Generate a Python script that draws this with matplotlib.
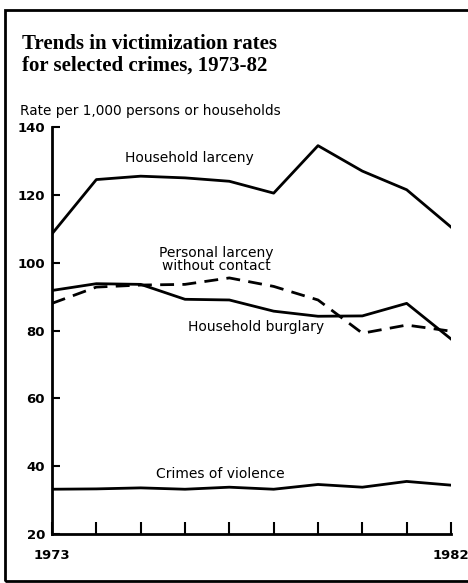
import matplotlib.pyplot as plt
from matplotlib.patches import Rectangle

years = [1973, 1974, 1975, 1976, 1977, 1978, 1979, 1980, 1981, 1982]
household_larceny = [108.5, 124.5, 125.5, 125.0, 124.0, 120.5, 134.5, 127.0, 121.5, 110.5]
household_burglary = [91.8, 93.8, 93.6, 89.2, 89.0, 85.7, 84.2, 84.3, 88.0, 77.5]
personal_larceny = [88.0, 92.8, 93.4, 93.6, 95.5, 93.0, 89.0, 79.2, 81.6, 79.8]
crimes_of_violence = [33.2, 33.3, 33.6, 33.2, 33.8, 33.2, 34.6, 33.8, 35.5, 34.4]

y_ticks = [20, 40, 60, 80, 100, 120, 140]

W, H = 468, 583
fig = plt.figure(figsize=(W / 100, H / 100), dpi=100)
ax = fig.add_axes([52 / W, (H - 534) / H, (451 - 52) / W, (534 - 127) / H])

ax.plot(years, household_larceny, color='black', lw=2.0)
ax.plot(years, household_burglary, color='black', lw=2.0)
ax.plot(years, personal_larceny, color='black', lw=2.0, ls=(0, (5, 3)))
ax.plot(years, crimes_of_violence, color='black', lw=2.0)

ax.set_xlim(1973, 1982)
ax.set_ylim(20, 140)
ax.set_yticks(y_ticks)
ax.set_yticklabels([str(t) for t in y_ticks], fontsize=9.5, fontweight='bold', family='DejaVu Sans')
ax.set_xticks(years)
ax.set_xticklabels([])
ax.tick_params(axis='y', direction='in', length=6, width=1.5, pad=5)
ax.tick_params(axis='x', direction='in', length=9, width=1.5)
for s in ['top', 'right']:
    ax.spines[s].set_visible(False)
for s in ['left', 'bottom']:
    ax.spines[s].set_linewidth(2.0)

# year labels at the ends only
ax.text(1973, 15.5, '1973', ha='center', va='top', fontsize=9.5, fontweight='bold', family='DejaVu Sans')
ax.text(1982, 15.5, '1982', ha='center', va='top', fontsize=9.5, fontweight='bold', family='DejaVu Sans')

lab = dict(ha='center', va='center', fontsize=10, family='DejaVu Sans', color='black')
ax.text(1976.1, 130.8, 'Household larceny', **lab)
ax.text(1976.7, 101.0, 'Personal larceny\nwithout contact', linespacing=0.95, **lab)
ax.text(1977.6, 80.9, 'Household burglary', **lab)
ax.text(1976.8, 37.7, 'Crimes of violence', **lab)

fig.text(22 / W, 1 - 55 / H, 'Trends in victimization rates\nfor selected crimes, 1973-82',
         ha='left', va='center', fontsize=15, fontweight='bold', family='Liberation Serif',
         linespacing=1.1)
fig.text(20 / W, 1 - 111 / H, 'Rate per 1,000 persons or households', ha='left', va='center',
         fontsize=9.8, family='DejaVu Sans')

fig.patches.append(Rectangle((5 / W, 2 / H), 1.2, (581 - 10) / H, transform=fig.transFigure,
                             fill=False, ec='black', lw=2.0))

fig.savefig('out.png', dpi=100)
